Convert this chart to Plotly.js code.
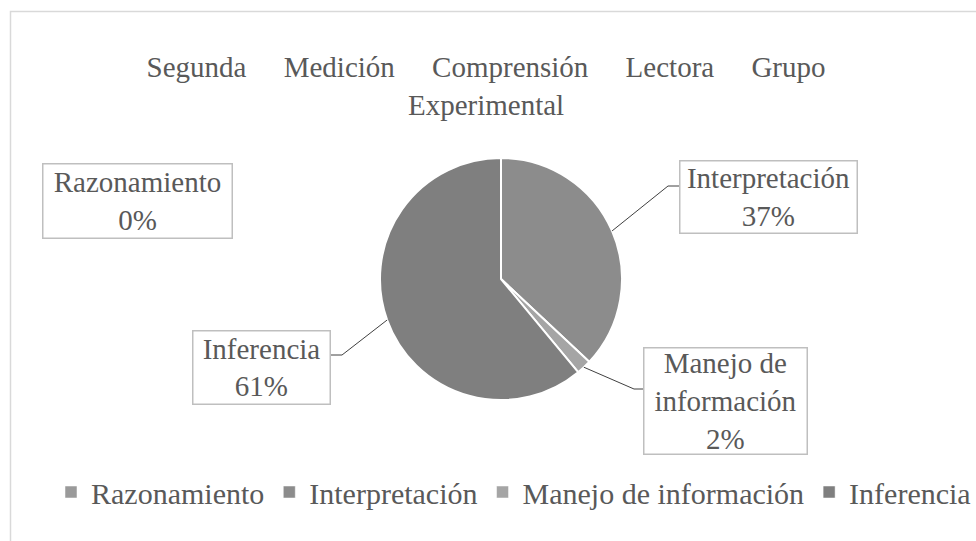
<!DOCTYPE html>
<html>
<head>
<meta charset="utf-8">
<script src="https://cdn.plot.ly/plotly-3.0.1.min.js"></script>
<style>
  html, body { margin: 0; padding: 0; background: #fff; overflow: hidden; }
  #chart { width: 976px; height: 541px; }
  .gtitle { word-spacing: 30px; }
  .legendpie { stroke-width: 0.5px !important; }
</style>
</head>
<body>
<div id="chart"></div>
<script>
// ---- data ----
const categories = ['Razonamiento', 'Interpretación', 'Manejo de información', 'Inferencia'];
const values = [0, 37, 2, 61];
const boxLabels = ['Razonamiento', 'Interpretación', 'Manejo de<br>información', 'Inferencia'];
const titleText = 'Segunda Medición Comprensión Lectora Grupo<br>Experimental';

// ---- styles / layout ----
const colors = ['#9a9a9a', '#8c8c8c', '#a5a5a5', '#7f7f7f'];
const W = 976, H = 541;
const cx = 501, cy = 279, R = 121;
const textColor = '#595959';
const fontFam = 'Liberation Serif';

const px = x => x / W;
const py = y => 1 - y / H;

// label boxes: center x, center y, width, height; elbow and box-edge for leader lines
const boxes = [
  { x: 137, y: 200.5, w: 190, h: 75, leader: null },
  { x: 768, y: 196.5, w: 178, h: 73, leader: { ex: 668, ey: 186, bx: 679, by: 186 } },
  { x: 725, y: 400.5, w: 164, h: 107, leader: { ex: 634, ey: 389, bx: 643, by: 389 } },
  { x: 261, y: 367, w: 138, h: 74, leader: { ex: 342, ey: 355, bx: 330, by: 355 } }
];

const total = values.reduce((a, b) => a + b, 0);
const annotations = [];
const shapes = [];

// chart border
shapes.push({
  type: 'rect', xref: 'paper', yref: 'paper',
  x0: px(10.5), x1: px(1000), y0: py(11.5), y1: py(600),
  line: { color: '#d9d9d9', width: 1.5 }, fillcolor: 'rgba(0,0,0,0)', layer: 'below'
});

let cum = 0;
values.forEach((v, i) => {
  const pct = Math.round(v / total * 100) + '%';
  const b = boxes[i];
  annotations.push({
    xref: 'paper', yref: 'paper', x: px(b.x), y: py(b.y),
    xanchor: 'center', yanchor: 'middle',
    text: boxLabels[i] + '<br>' + pct,
    showarrow: false,
    width: b.w - 2, height: b.h - 2,
    bordercolor: '#bfbfbf', borderwidth: 1.5, borderpad: 0,
    bgcolor: '#ffffff',
    font: { family: fontFam, size: 29, color: textColor }
  });
  const a = 2 * Math.PI * (cum + v / 2) / total;
  if (b.leader) {
    const sx = cx + R * Math.sin(a), sy = cy - R * Math.cos(a);
    const L = b.leader;
    shapes.push({
      type: 'path', xref: 'paper', yref: 'paper',
      path: `M ${px(sx)} ${py(sy)} L ${px(L.ex)} ${py(L.ey)} L ${px(L.bx)} ${py(L.by)}`,
      line: { color: '#404040', width: 1 }
    });
  }
  cum += v;
});

const trace = {
  type: 'pie',
  labels: categories,
  values: values,
  sort: false,
  direction: 'clockwise',
  rotation: 0,
  textinfo: 'none',
  hoverinfo: 'label+percent',
  marker: { colors: colors, line: { color: '#ffffff', width: 2 } },
  domain: { x: [px(cx - R), px(cx + R)], y: [py(cy + R), py(cy - R)] }
};

const layout = {
  width: W, height: H,
  margin: { l: 0, r: 0, t: 0, b: 0 },
  paper_bgcolor: '#ffffff',
  font: { family: fontFam, color: textColor },
  title: {
    text: titleText,
    font: { family: fontFam, size: 29, color: textColor },
    x: 0.498, xanchor: 'center',
    y: 1 - 77 / H, yanchor: 'top', yref: 'container'
  },
  showlegend: true,
  legend: {
    orientation: 'h',
    x: px(52), xanchor: 'left',
    y: py(492), yanchor: 'middle',
    font: { family: fontFam, size: 30, color: textColor },
    traceorder: 'normal'
  },
  annotations: annotations,
  shapes: shapes
};

Plotly.newPlot('chart', [trace], layout, { displayModeBar: false, staticPlot: true });
</script>
</body>
</html>
